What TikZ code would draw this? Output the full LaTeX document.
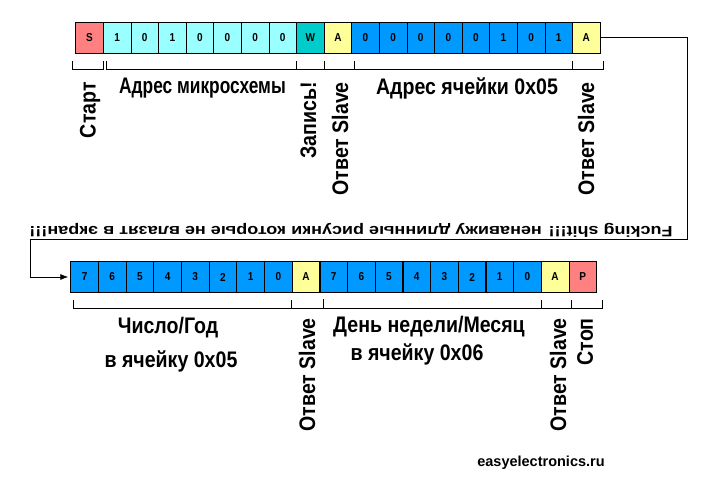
\documentclass[tikz,border=0pt]{standalone}
\usepackage{fontspec}
\setmainfont{Liberation Sans}
\newfontfamily\narrowfont[FakeStretch=0.87]{Liberation Sans}
\newfontfamily\narrowerfont[FakeStretch=0.77]{Liberation Sans}
\newfontfamily\widefont[FakeStretch=1.2]{Liberation Sans}
\usetikzlibrary{arrows.meta}

\definecolor{startred}{RGB}{255,128,128}
\definecolor{addrcyan}{RGB}{153,255,255}
\definecolor{writeteal}{RGB}{0,204,204}
\definecolor{ackyellow}{RGB}{255,255,153}
\definecolor{datablue}{RGB}{0,153,255}

\tikzset{
  bit/.style={draw, line width=0.8pt, inner sep=0pt, minimum width=27.6pt, minimum height=31pt,
    font=\narrowfont\bfseries\fontsize{11.5}{11.5}\selectfont},
  lbl/.style={inner sep=0pt, font=\narrowfont\bfseries\fontsize{22.5}{25}\selectfont},
  vlbl/.style={lbl, rotate=90, anchor=east},
  brace/.style={line width=0.8pt},
}

\begin{document}
\begin{tikzpicture}[x=1pt, y=-1pt]
\useasboundingbox (0,0) rectangle (709,492);
% first frame: address, write, cell address
\node[bit, fill=startred] (a1) at (89.5,37.8){S};
\node[bit, fill=addrcyan] (a2) at (117.1,37.8){1};
\node[bit, fill=addrcyan] (a3) at (144.7,37.8){0};
\node[bit, fill=addrcyan] (a4) at (172.3,37.8){1};
\node[bit, fill=addrcyan] (a5) at (199.9,37.8){\raisebox{-3pt}{0}};
\node[bit, fill=addrcyan] (a6) at (227.5,37.8){0};
\node[bit, fill=addrcyan] (a7) at (255.1,37.8){0};
\node[bit, fill=addrcyan] (a8) at (282.7,37.8){0};
\node[bit, fill=writeteal] (a9) at (310.3,37.8){W};
\node[bit, fill=ackyellow] (a10) at (337.9,37.8){A};
\node[bit, fill=datablue] (a11) at (365.5,37.8){0};
\node[bit, fill=datablue] (a12) at (393.1,37.8){0};
\node[bit, fill=datablue] (a13) at (420.7,37.8){0};
\node[bit, fill=datablue] (a14) at (448.3,37.8){0};
\node[bit, fill=datablue] (a15) at (475.9,37.8){0};
\node[bit, fill=datablue] (a16) at (503.5,37.8){1};
\node[bit, fill=datablue] (a17) at (531.1,37.8){0};
\node[bit, fill=datablue] (a18) at (558.7,37.8){1};
\node[bit, fill=ackyellow] (a19) at (586.3,37.8){A};
\draw[brace] (72.3,61) |- (103.3,69.3) -- (103.3,61);
\draw[brace] (106,61) |- (603.3,69.3) -- (603.3,61);
\draw[brace] (296.3,61) -- (296.3,69.3);
\draw[brace] (324.3,61) -- (324.3,69.3);
\draw[brace] (354.3,61) -- (354.3,69.3);
\draw[brace] (572.7,61) -- (572.7,69.3);
\node[vlbl] (start) at (90,82){Старт};
\node[lbl, font=\narrowerfont\bfseries\fontsize{22.5}{25}\selectfont] (chipaddr) at (202.5,88){Адрес микросхемы};
\node[vlbl] (write) at (308.5,82){Запись!};
\node[vlbl] (ack1) at (340,82){Ответ Slave};
\node[lbl] (celladdr) at (467,88){Адрес ячейки 0x05};
\node[vlbl] (ack2) at (586,82){Ответ Slave};
% wrap over to the second frame
\coordinate (turnr) at (687.7,239.3);
\coordinate (turnl) at (30.3,239.3);
\node[rotate=180, inner sep=0pt, font=\widefont\bfseries\fontsize{15}{17}\selectfont] (rant) at (351,230){Fucking shit!!! ненавижу длинные рисунки которые не влазят в экран!!!};
% second frame: data bytes and stop
\node[bit, fill=datablue] (b1) at (84.54,277){7};
\node[bit, fill=datablue] (b2) at (112.22,277){6};
\node[bit, fill=datablue] (b3) at (139.9,277){5};
\node[bit, fill=datablue] (b4) at (167.58,277){4};
\node[bit, fill=datablue] (b5) at (195.26,277){3};
\node[bit, fill=datablue] (b6) at (222.94,277){2};
\node[bit, fill=datablue] (b7) at (250.62,277){1};
\node[bit, fill=datablue] (b8) at (278.3,277){0};
\node[bit, fill=ackyellow] (b9) at (305.98,277){A};
\node[bit, fill=datablue] (b10) at (333.66,277){7};
\node[bit, fill=datablue] (b11) at (361.34,277){6};
\node[bit, fill=datablue] (b12) at (389.02,277){5};
\node[bit, fill=datablue] (b13) at (416.7,277){4};
\node[bit, fill=datablue] (b14) at (444.38,277){3};
\node[bit, fill=datablue] (b15) at (472.06,277){2};
\node[bit, fill=datablue] (b16) at (499.74,277){1};
\node[bit, fill=datablue] (b17) at (527.42,277){0};
\node[bit, fill=ackyellow] (b18) at (555.1,277){A};
\node[bit, fill=startred] (b19) at (582.78,277){P};
\draw[line width=1.6pt] (b9.north east) -- (b9.south east);
\draw[brace] (73.5,300) |- (602.5,308.3) -- (602.5,300);
\draw[brace] (291.7,300) -- (291.7,308.3);
\draw[line width=1.6pt] (323.3,299) -- (323.3,308.3);
\draw[brace] (541.7,300) -- (541.7,308.3);
\draw[brace] (571.7,300) -- (571.7,308.3);
\node[lbl] (day) at (168,328){Число/Год};
\node[lbl] (dayto) at (171,361){в ячейку 0x05};
\node[vlbl] (ack3) at (307,318){Ответ Slave};
\node[lbl] (week) at (429,327){День недели/Месяц};
\node[lbl] (weekto) at (417,354){в ячейку 0x06};
\node[vlbl] (ack4) at (558,318){Ответ Slave};
\node[vlbl] (stop) at (585,318){Стоп};
\node[inner sep=0pt, font=\bfseries\fontsize{14.5}{16}\selectfont] (site) at (541,463){easyelectronics.ru};
\draw[line width=0.8pt, -{Latex[length=8pt, width=6pt]}, shorten >=2pt] (a19.east) -| (turnr) -- (turnl) |- (b1.west);
\end{tikzpicture}
\end{document}
